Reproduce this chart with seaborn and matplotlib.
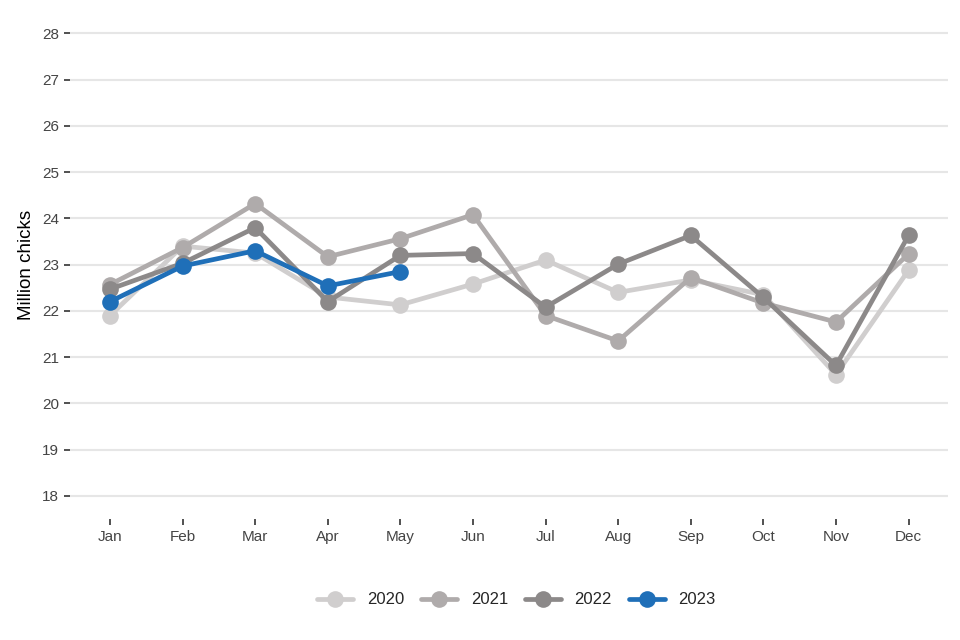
import pandas as pd
import numpy as np
import matplotlib
matplotlib.use('Agg')
import matplotlib.pyplot as plt
import seaborn as sns

months = ['Jan', 'Feb', 'Mar', 'Apr', 'May', 'Jun',
          'Jul', 'Aug', 'Sep', 'Oct', 'Nov', 'Dec']

# million chicks placed
y2020 = [21.9, 23.4, 23.25, 22.3, 22.13, 22.58, 23.1, 22.4, 22.67, 22.35, 20.62, 22.88]
y2021 = [22.57, 23.37, 24.32, 23.17, 23.56, 24.08, 21.9, 21.35, 22.72, 22.17, 21.76, 23.23]
y2022 = [22.47, 23.03, 23.8, 22.2, 23.2, 23.24, 22.08, 23.01, 23.63, 22.29, 20.82, 23.63]
y2023 = [22.2, 22.97, 23.3, 22.54, 22.85]

years = ['2020', '2021', '2022', '2023']
colours = ['#d0cece', '#afabab', '#8c8989', '#1f6fb8']

rows = []
for yr, vals in zip(years, [y2020, y2021, y2022, y2023]):
    for i, v in enumerate(vals):
        rows.append({'month': i, 'year': yr, 'value': v})
df = pd.DataFrame(rows)

sns.set_theme(style='white')
plt.rcParams['font.family'] = ['Liberation Sans', 'DejaVu Sans']

fig = plt.figure(figsize=(9.6, 6.4), dpi=100)
ax = fig.add_axes([0.073, 0.189, 0.915, 0.795])

sns.lineplot(data=df, x='month', y='value', hue='year', hue_order=years,
             palette=colours, marker='o', markersize=12, markeredgewidth=0,
             linewidth=3.4, ax=ax)

ax.set_xlim(-0.55, 11.55)
ax.set_ylim(17.5, 28.5)
ax.set_xticks(range(12))
ax.set_xticklabels(months)
ax.set_yticks(range(18, 29))
ax.yaxis.grid(True, color='#e6e6e6', linewidth=1.5)
ax.xaxis.grid(False)
ax.set_axisbelow(True)
for s in ax.spines.values():
    s.set_visible(False)
ax.tick_params(axis='both', length=4, width=1.2, color='#333333',
               labelsize=11, labelcolor='#444444', pad=4)
ax.tick_params(axis='x', pad=4)
ax.tick_params(axis='y', left=True)
ax.tick_params(axis='x', bottom=True)
ax.set_xlabel('')
ax.set_ylabel('Million chicks', fontsize=13.5, color='black', labelpad=5)

leg = ax.legend(loc='center', bbox_to_anchor=(0.508, -0.159), ncol=4,
                frameon=False, fontsize=12, handlelength=2.2,
                columnspacing=1.0, handletextpad=0.8)

fig.savefig('out.png', dpi=100)
